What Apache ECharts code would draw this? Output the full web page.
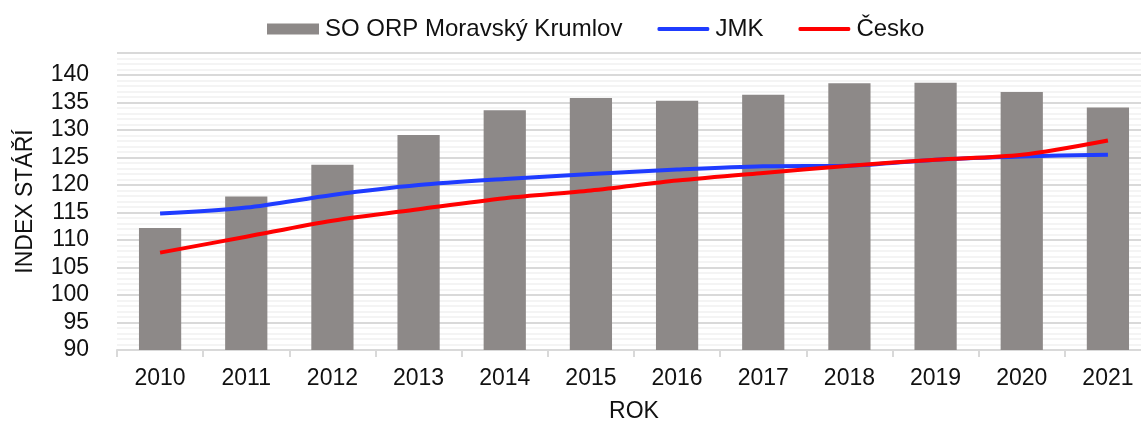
<!DOCTYPE html>
<html>
<head>
<meta charset="utf-8">
<script src="https://cdn.jsdelivr.net/npm/echarts@6/dist/echarts.min.js"></script>
<style>
html,body{margin:0;padding:0;background:#fff;}
#chart{width:1141px;height:421px;}
</style>
</head>
<body>
<div id="chart"></div>
<script>
const categories = ['2010','2011','2012','2013','2014','2015','2016','2017','2018','2019','2020','2021'];
const orpValues = [112.2, 117.9, 123.7, 129.1, 133.6, 135.8, 135.3, 136.4, 138.5, 138.6, 136.9, 134.1];
const jmkValues = [114.8, 115.9, 118.2, 120.0, 121.1, 122.0, 122.8, 123.4, 123.5, 124.6, 125.2, 125.5];
const ceskoValues = [107.7, 110.6, 113.5, 115.6, 117.6, 119.0, 120.8, 122.2, 123.5, 124.6, 125.5, 128.1];
const seriesNames = ['SO ORP Moravský Krumlov', 'JMK', 'Česko'];
const yMin = 90, yMax = 144;

const FONT = 'Liberation Sans, Arial, sans-serif';
const LINE_ICON = 'path://M0,0 M55,11 M1.5,3.5 L53.5,3.5 Q55,3.5 55,5.5 Q55,7.5 53.5,7.5 L1.5,7.5 Q0,7.5 0,5.5 Q0,3.5 1.5,3.5 Z';
const chart = echarts.init(document.getElementById('chart'), null, {renderer: 'canvas'});
chart.setOption({
  animation: false,
  textStyle: {fontFamily: FONT},
  legend: {
    left: 267, top: 17, padding: 0,
    itemWidth: 52, itemHeight: 11, itemGap: 35,
    textStyle: {fontSize: 24, color: '#111', fontFamily: FONT, padding: [0,0,0,1]},
    data: [
      {name: seriesNames[0], icon: 'rect'},
      {name: seriesNames[1], icon: LINE_ICON},
      {name: seriesNames[2], icon: LINE_ICON}
    ]
  },
  grid: {left: 117, width: 1034, top: 53, height: 297, containLabel: false, outerBoundsMode: 'none'},
  xAxis: {
    type: 'category',
    data: categories,
    name: 'ROK',
    nameLocation: 'middle',
    nameGap: 50,
    nameTextStyle: {fontSize: 23, color: '#111', fontFamily: FONT},
    axisLine: {show: true, lineStyle: {color: '#d9d9d9', width: 2}},
    axisTick: {show: true, alignWithLabel: false, length: 7, lineStyle: {color: '#d9d9d9', width: 2}},
    axisLabel: {fontSize: 23, color: '#111', margin: 17, fontFamily: FONT},
    z: 1
  },
  yAxis: [{
    type: 'value',
    min: yMin, max: yMax, interval: 5,
    name: 'INDEX STÁŘÍ',
    nameLocation: 'middle',
    nameGap: 80,
    nameTextStyle: {fontSize: 23, color: '#111', fontFamily: FONT},
    axisLine: {show: false},
    axisTick: {show: false},
    axisLabel: {fontSize: 23, color: '#111', margin: 28, showMaxLabel: false, fontFamily: FONT,
      formatter: v => (v % 5 === 0 ? String(v) : '')},
    splitLine: {show: true, lineStyle: {color: '#d9d9d9', width: 2}},
    z: 1
  }, {
    type: 'value',
    min: yMin, max: yMax, interval: 1,
    position: 'left',
    axisLine: {show: false},
    axisTick: {show: false},
    axisLabel: {show: false},
    splitLine: {show: true, lineStyle: {color: '#f0f0f0', width: 1.5}},
    z: 0
  }],
  series: [{
    name: seriesNames[0],
    type: 'bar',
    data: orpValues,
    barWidth: '49%',
    itemStyle: {color: '#8d8988'},
    z: 2
  }, {
    name: seriesNames[1],
    type: 'line',
    data: jmkValues,
    smooth: 0.3,
    symbol: 'none',
    lineStyle: {color: '#1f3cff', width: 4},
    itemStyle: {color: '#1f3cff'},
    z: 3
  }, {
    name: seriesNames[2],
    type: 'line',
    data: ceskoValues,
    smooth: 0.3,
    symbol: 'none',
    lineStyle: {color: '#ff0000', width: 4},
    itemStyle: {color: '#ff0000'},
    z: 4
  }]
});
</script>
</body>
</html>
